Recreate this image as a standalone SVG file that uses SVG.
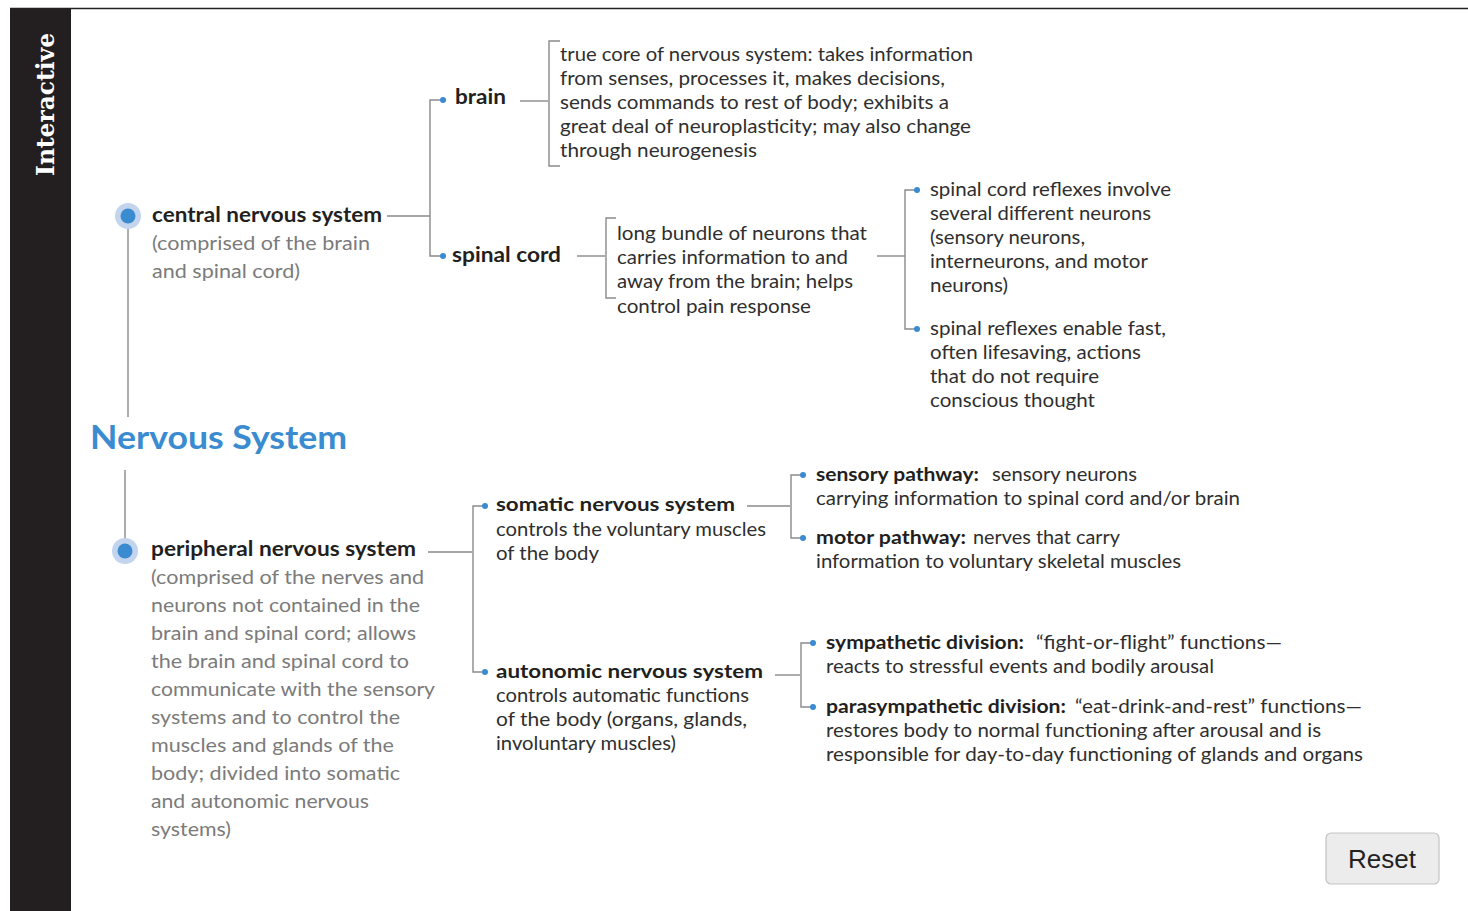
<svg xmlns="http://www.w3.org/2000/svg" width="1468" height="911" viewBox="0 0 1468 911">
<style>
text{font-family:Lato,"Open Sans","Liberation Sans",sans-serif;fill:#231f20}
.h{font-weight:bold;font-size:20px}
.g{font-size:19.5px;fill:#7b7b7b}
.d{font-size:19px;fill:#2f2f2f}
.c{font-size:19.5px;fill:#2f2f2f}
.cb{font-size:19.5px;font-weight:bold;fill:#231f20}
.ln{stroke:#8a8a8a;stroke-width:1.4;fill:none}
.dot{fill:#3a8bd0}
.halo{fill:#c3d4ee}
</style>
<rect x="0" y="0" width="1468" height="911" fill="#fff"/>
<line x1="10" y1="8.5" x2="1468" y2="8.5" stroke="#222" stroke-width="1.5"/>
<rect x="10" y="9" width="61" height="902" fill="#231f20"/>
<text transform="translate(54,176) rotate(-90)" style="font-family:'DejaVu Serif',serif;font-weight:bold;font-size:25px;fill:#fff" textLength="143" lengthAdjust="spacingAndGlyphs">Interactive</text>

<g id="connectors">
<line class="ln" x1="128" y1="228" x2="128" y2="417"/>
<line class="ln" x1="125" y1="470" x2="125" y2="540"/>
<polyline class="ln" points="387,216 430,216"/>
<polyline class="ln" points="443,100 430,100 430,256 443,256"/>
<line class="ln" x1="520" y1="101" x2="548" y2="101"/>
<polyline class="ln" points="560,41 549,41 549,166 560,166"/>
<line class="ln" x1="577" y1="256" x2="605" y2="256"/>
<polyline class="ln" points="616,218 606,218 606,298 616,298"/>
<line class="ln" x1="877" y1="256" x2="905" y2="256"/>
<polyline class="ln" points="917,190 905,190 905,329 917,329"/>
<line class="ln" x1="428" y1="552" x2="472" y2="552"/>
<polyline class="ln" points="485,506 473,506 473,672 485,672"/>
<line class="ln" x1="747" y1="506" x2="790" y2="506"/>
<polyline class="ln" points="803,475 791,475 791,538 803,538"/>
<line class="ln" x1="775" y1="675" x2="800" y2="675"/>
<polyline class="ln" points="813,643 801,643 801,707 813,707"/>
<circle class="dot" cx="443" cy="100" r="3"/>
<circle class="dot" cx="443" cy="256" r="3"/>
<circle class="dot" cx="917" cy="190" r="3"/>
<circle class="dot" cx="917" cy="329" r="3"/>
<circle class="dot" cx="485" cy="506" r="3"/>
<circle class="dot" cx="485" cy="672" r="3"/>
<circle class="dot" cx="803" cy="475" r="3"/>
<circle class="dot" cx="803" cy="538" r="3"/>
<circle class="dot" cx="813" cy="643" r="3"/>
<circle class="dot" cx="813" cy="707" r="3"/>
</g>

<g id="title">
<text x="90" y="449" style="font-weight:bold;font-size:32px;fill:#3a8bd0" textLength="257" lengthAdjust="spacingAndGlyphs">Nervous System</text>
</g>

<g id="cns">
<circle class="halo" cx="128" cy="216" r="13"/>
<circle class="dot" cx="128" cy="216" r="7.5"/>
<text class="h" x="152" y="222" textLength="230" lengthAdjust="spacingAndGlyphs">central nervous system</text>
<text class="g" x="152" y="250" textLength="218" lengthAdjust="spacingAndGlyphs">(comprised of the brain</text>
<text class="g" x="152" y="278" textLength="148" lengthAdjust="spacingAndGlyphs">and spinal cord)</text>
</g>

<g id="brain">
<text class="h" x="455" y="104" textLength="51" lengthAdjust="spacingAndGlyphs">brain</text>
</g>
<g id="brain-desc">
<text class="d" x="560" y="61" textLength="413" lengthAdjust="spacingAndGlyphs">true core of nervous system: takes information</text>
<text class="d" x="560" y="85" textLength="385" lengthAdjust="spacingAndGlyphs">from senses, processes it, makes decisions,</text>
<text class="d" x="560" y="109" textLength="389" lengthAdjust="spacingAndGlyphs">sends commands to rest of body; exhibits a</text>
<text class="d" x="560" y="133" textLength="411" lengthAdjust="spacingAndGlyphs">great deal of neuroplasticity; may also change</text>
<text class="d" x="560" y="157" textLength="197" lengthAdjust="spacingAndGlyphs">through neurogenesis</text>
</g>

<g id="spinal-cord">
<text class="h" x="452" y="262" textLength="109" lengthAdjust="spacingAndGlyphs">spinal cord</text>
</g>
<g id="spinal-desc">
<text class="d" x="617" y="240" textLength="250" lengthAdjust="spacingAndGlyphs">long bundle of neurons that</text>
<text class="d" x="617" y="264" textLength="231" lengthAdjust="spacingAndGlyphs">carries information to and</text>
<text class="d" x="617" y="288" textLength="236" lengthAdjust="spacingAndGlyphs">away from the brain; helps</text>
<text class="d" x="617" y="313" textLength="194" lengthAdjust="spacingAndGlyphs">control pain response</text>
</g>

<g id="reflex-1">
<text class="d" x="930" y="196" textLength="241" lengthAdjust="spacingAndGlyphs">spinal cord reflexes involve</text>
<text class="d" x="930" y="220" textLength="221" lengthAdjust="spacingAndGlyphs">several different neurons</text>
<text class="d" x="930" y="244" textLength="155" lengthAdjust="spacingAndGlyphs">(sensory neurons,</text>
<text class="d" x="930" y="268" textLength="218" lengthAdjust="spacingAndGlyphs">interneurons, and motor</text>
<text class="d" x="930" y="292" textLength="78" lengthAdjust="spacingAndGlyphs">neurons)</text>
</g>
<g id="reflex-2">
<text class="d" x="930" y="335" textLength="236" lengthAdjust="spacingAndGlyphs">spinal reflexes enable fast,</text>
<text class="d" x="930" y="359" textLength="211" lengthAdjust="spacingAndGlyphs">often lifesaving, actions</text>
<text class="d" x="930" y="383" textLength="169" lengthAdjust="spacingAndGlyphs">that do not require</text>
<text class="d" x="930" y="407" textLength="165" lengthAdjust="spacingAndGlyphs">conscious thought</text>
</g>

<g id="pns">
<circle class="halo" cx="125" cy="551" r="13"/>
<circle class="dot" cx="125" cy="551" r="7.5"/>
<text class="h" x="151" y="556" textLength="265" lengthAdjust="spacingAndGlyphs">peripheral nervous system</text>
<text class="g" x="151" y="584" textLength="273" lengthAdjust="spacingAndGlyphs">(comprised of the nerves and</text>
<text class="g" x="151" y="612" textLength="269" lengthAdjust="spacingAndGlyphs">neurons not contained in the</text>
<text class="g" x="151" y="640" textLength="265" lengthAdjust="spacingAndGlyphs">brain and spinal cord; allows</text>
<text class="g" x="151" y="668" textLength="258" lengthAdjust="spacingAndGlyphs">the brain and spinal cord to</text>
<text class="g" x="151" y="696" textLength="284" lengthAdjust="spacingAndGlyphs">communicate with the sensory</text>
<text class="g" x="151" y="724" textLength="249" lengthAdjust="spacingAndGlyphs">systems and to control the</text>
<text class="g" x="151" y="752" textLength="243" lengthAdjust="spacingAndGlyphs">muscles and glands of the</text>
<text class="g" x="151" y="780" textLength="249" lengthAdjust="spacingAndGlyphs">body; divided into somatic</text>
<text class="g" x="151" y="808" textLength="218" lengthAdjust="spacingAndGlyphs">and autonomic nervous</text>
<text class="g" x="151" y="836" textLength="80" lengthAdjust="spacingAndGlyphs">systems)</text>
</g>

<g id="somatic">
<text class="cb" x="496" y="511" textLength="239" lengthAdjust="spacingAndGlyphs">somatic nervous system</text>
<text class="c" x="496" y="536" textLength="270" lengthAdjust="spacingAndGlyphs">controls the voluntary muscles</text>
<text class="c" x="496" y="560" textLength="103" lengthAdjust="spacingAndGlyphs">of the body</text>
</g>

<g id="sensory-pathway">
<text class="cb" x="816" y="481" textLength="163" lengthAdjust="spacingAndGlyphs">sensory pathway:</text>
<text class="c" x="992" y="481" textLength="145" lengthAdjust="spacingAndGlyphs">sensory neurons</text>
<text class="c" x="816" y="505" textLength="424" lengthAdjust="spacingAndGlyphs">carrying information to spinal cord and/or brain</text>
</g>

<g id="motor-pathway">
<text class="cb" x="816" y="544" textLength="150" lengthAdjust="spacingAndGlyphs">motor pathway:</text>
<text class="c" x="973" y="544" textLength="147" lengthAdjust="spacingAndGlyphs">nerves that carry</text>
<text class="c" x="816" y="568" textLength="365" lengthAdjust="spacingAndGlyphs">information to voluntary skeletal muscles</text>
</g>

<g id="autonomic">
<text class="cb" x="496" y="678" textLength="267" lengthAdjust="spacingAndGlyphs">autonomic nervous system</text>
<text class="c" x="496" y="702" textLength="253" lengthAdjust="spacingAndGlyphs">controls automatic functions</text>
<text class="c" x="496" y="726" textLength="251" lengthAdjust="spacingAndGlyphs">of the body (organs, glands,</text>
<text class="c" x="496" y="750" textLength="180" lengthAdjust="spacingAndGlyphs">involuntary muscles)</text>
</g>

<g id="sympathetic">
<text class="cb" x="826" y="649" textLength="198" lengthAdjust="spacingAndGlyphs">sympathetic division:</text>
<text class="c" x="1036" y="649" textLength="246" lengthAdjust="spacingAndGlyphs">“fight-or-flight” functions—</text>
<text class="c" x="826" y="673" textLength="388" lengthAdjust="spacingAndGlyphs">reacts to stressful events and bodily arousal</text>
</g>

<g id="parasympathetic">
<text class="cb" x="826" y="713" textLength="240" lengthAdjust="spacingAndGlyphs">parasympathetic division:</text>
<text class="c" x="1075" y="713" textLength="287" lengthAdjust="spacingAndGlyphs">“eat-drink-and-rest” functions—</text>
<text class="c" x="826" y="737" textLength="495" lengthAdjust="spacingAndGlyphs">restores body to normal functioning after arousal and is</text>
<text class="c" x="826" y="761" textLength="537" lengthAdjust="spacingAndGlyphs">responsible for day-to-day functioning of glands and organs</text>
</g>

<g id="reset">
<rect x="1326" y="833" width="113" height="51" rx="5" fill="#ececec" stroke="#c4c4c4" stroke-width="1.2"/>
<text x="1382" y="868" text-anchor="middle" style="font-family:'Liberation Sans',Arial,sans-serif;font-size:26px;fill:#222">Reset</text>
</g>
</svg>
